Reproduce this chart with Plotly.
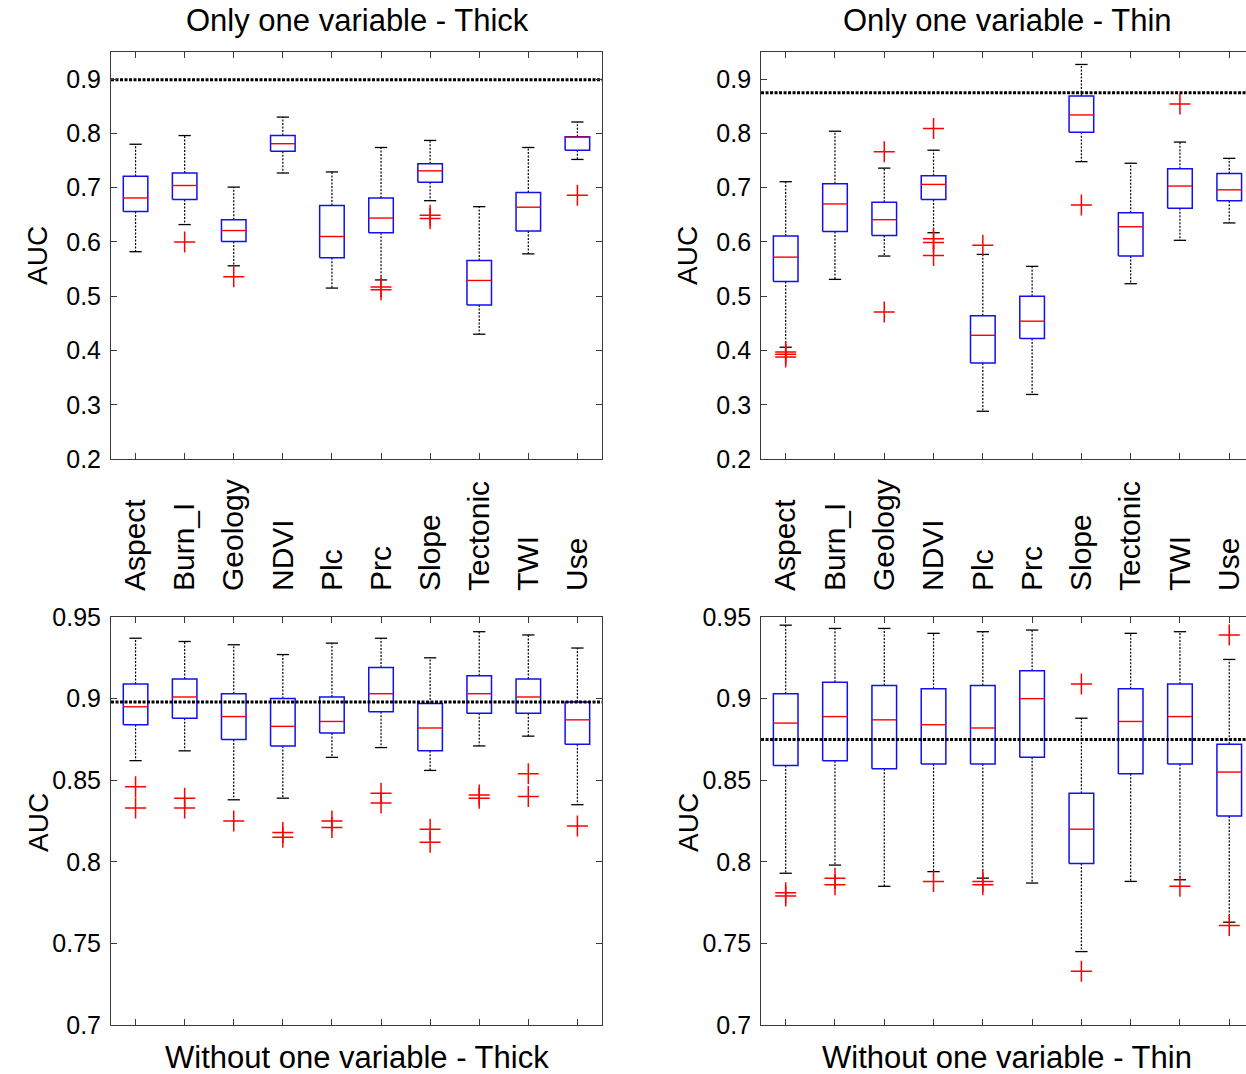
import plotly.graph_objects as go

categories = ["Aspect", "Burn_I", "Geology", "NDVI", "Plc", "Prc", "Slope", "Tectonic", "TWI", "Use"]

# ---- Only one variable - Thick ----
oth_hi = [0.780, 0.796, 0.701, 0.830, 0.729, 0.774, 0.787, 0.665, 0.774, 0.821]
oth_q3 = [0.721, 0.727, 0.641, 0.796, 0.667, 0.681, 0.744, 0.566, 0.691, 0.794]
oth_med = [0.681, 0.704, 0.621, 0.781, 0.610, 0.644, 0.731, 0.529, 0.664, 0.793]
oth_q1 = [0.656, 0.678, 0.601, 0.767, 0.571, 0.617, 0.710, 0.484, 0.620, 0.769]
oth_lo = [0.582, 0.632, 0.556, 0.727, 0.515, 0.530, 0.676, 0.430, 0.578, 0.752]
oth_out = [[], [0.600], [0.536], [], [], [0.517, 0.512], [0.649, 0.643], [], [], [0.686]]
oth_ref = 0.899

# ---- Only one variable - Thin ----
otn_hi = [0.711, 0.804, 0.736, 0.769, 0.577, 0.555, 0.927, 0.745, 0.784, 0.754]
otn_q3 = [0.611, 0.707, 0.673, 0.722, 0.464, 0.500, 0.869, 0.654, 0.735, 0.726]
otn_med = [0.572, 0.670, 0.641, 0.706, 0.428, 0.454, 0.834, 0.628, 0.703, 0.696]
otn_q1 = [0.527, 0.619, 0.612, 0.678, 0.377, 0.422, 0.802, 0.574, 0.662, 0.676]
otn_lo = [0.406, 0.531, 0.574, 0.617, 0.288, 0.319, 0.748, 0.523, 0.603, 0.635]
otn_out = [[0.397, 0.393, 0.388], [], [0.766, 0.471], [0.809, 0.606, 0.599, 0.575],
           [0.594], [], [0.668], [], [0.854], []]
otn_ref = 0.875

# ---- Without one variable - Thick ----
wth_hi = [0.937, 0.935, 0.933, 0.927, 0.934, 0.937, 0.925, 0.941, 0.939, 0.931]
wth_q3 = [0.909, 0.912, 0.903, 0.900, 0.901, 0.919, 0.897, 0.914, 0.912, 0.898]
wth_med = [0.895, 0.901, 0.889, 0.883, 0.886, 0.903, 0.882, 0.903, 0.901, 0.887]
wth_q1 = [0.884, 0.888, 0.875, 0.871, 0.879, 0.892, 0.868, 0.891, 0.891, 0.872]
wth_lo = [0.862, 0.868, 0.838, 0.839, 0.864, 0.870, 0.856, 0.871, 0.877, 0.835]
wth_out = [[0.846, 0.833], [0.839, 0.833], [0.825], [0.818, 0.815], [0.825, 0.821],
           [0.842, 0.836], [0.820, 0.812], [0.841, 0.839], [0.854, 0.840], [0.822]]
wth_ref = 0.898

# ---- Without one variable - Thin ----
wtn_hi = [0.945, 0.943, 0.943, 0.940, 0.941, 0.942, 0.888, 0.940, 0.941, 0.924]
wtn_q3 = [0.903, 0.910, 0.908, 0.906, 0.908, 0.917, 0.842, 0.906, 0.909, 0.872]
wtn_med = [0.885, 0.889, 0.887, 0.884, 0.882, 0.900, 0.820, 0.886, 0.889, 0.855]
wtn_q1 = [0.859, 0.862, 0.857, 0.860, 0.860, 0.864, 0.799, 0.854, 0.860, 0.828]
wtn_lo = [0.793, 0.798, 0.785, 0.794, 0.790, 0.787, 0.745, 0.788, 0.789, 0.763]
wtn_out = [[0.781, 0.779], [0.790, 0.786], [], [0.788], [0.788, 0.786],
           [], [0.909, 0.733], [], [0.785], [0.939, 0.761]]
wtn_ref = 0.875

panels = [
    ("x", "y", oth_hi, oth_q3, oth_med, oth_q1, oth_lo, oth_out, oth_ref),
    ("x2", "y2", otn_hi, otn_q3, otn_med, otn_q1, otn_lo, otn_out, otn_ref),
    ("x3", "y3", wth_hi, wth_q3, wth_med, wth_q1, wth_lo, wth_out, wth_ref),
    ("x4", "y4", wtn_hi, wtn_q3, wtn_med, wtn_q1, wtn_lo, wtn_out, wtn_ref),
]

BW = 0.25   # box half width
CW = 0.125  # cap half width
FONT = "Liberation Sans, Arial, sans-serif"

fig = go.Figure()
for xa, ya, hi, q3, med, q1, lo, outs, ref in panels:
    n = len(categories)
    pos = list(range(1, n + 1))
    wx, wy, cx, cy, bx, by, mx, my, ox, oy = [], [], [], [], [], [], [], [], [], []
    for i in range(n):
        p = pos[i]
        wx += [p, p, None, p, p, None]
        wy += [q3[i], hi[i], None, q1[i], lo[i], None]
        cx += [p - CW, p + CW, None, p - CW, p + CW, None]
        cy += [hi[i], hi[i], None, lo[i], lo[i], None]
        bx += [p - BW, p + BW, p + BW, p - BW, p - BW, None]
        by += [q1[i], q1[i], q3[i], q3[i], q1[i], None]
        mx += [p - BW, p + BW, None]
        my += [med[i], med[i], None]
        for v in outs[i]:
            ox.append(p)
            oy.append(v)
    fig.add_trace(go.Scatter(x=wx, y=wy, mode="lines", xaxis=xa, yaxis=ya,
                             line=dict(color="black", width=1.2, dash="2px,1.5px"),
                             hoverinfo="skip", showlegend=False))
    fig.add_trace(go.Scatter(x=cx, y=cy, mode="lines", xaxis=xa, yaxis=ya,
                             line=dict(color="black", width=1.3),
                             hoverinfo="skip", showlegend=False))
    fig.add_trace(go.Scatter(x=bx, y=by, mode="lines", xaxis=xa, yaxis=ya,
                             line=dict(color="#1010F0", width=1.5),
                             hoverinfo="skip", showlegend=False))
    fig.add_trace(go.Scatter(x=mx, y=my, mode="lines", xaxis=xa, yaxis=ya,
                             line=dict(color="#FF0000", width=1.4),
                             hoverinfo="skip", showlegend=False))
    fig.add_trace(go.Scatter(x=ox, y=oy, mode="markers", xaxis=xa, yaxis=ya,
                             marker=dict(symbol="cross-thin", size=15, color="#FF0000",
                                         line=dict(color="#FF0000", width=1.5)),
                             hoverinfo="skip", showlegend=False))
    fig.add_trace(go.Scatter(x=[0.5, 10.5], y=[ref, ref], mode="lines", xaxis=xa, yaxis=ya,
                             line=dict(color="black", width=3, dash="3px,1.5px"),
                             hoverinfo="skip", showlegend=False))

AX = "#3a3a3a"
tickfont = dict(family=FONT, size=25, color="black")

def xaxis(domain, anchor, rng, labels_top):
    d = dict(domain=domain, anchor=anchor, range=rng, showline=True, linecolor=AX, linewidth=1,
             mirror="ticks", ticks="inside", ticklen=6, tickcolor=AX, tickwidth=1,
             tickmode="array", tickvals=list(range(1, len(categories) + 1)),
             showgrid=False, zeroline=False, automargin=False,
             tickfont=dict(family=FONT, size=30, color="black"))
    if labels_top:
        d.update(side="top", ticktext=categories, showticklabels=True, tickangle=-90,
                 ticklabelstandoff=19)
    else:
        d.update(ticktext=categories, showticklabels=False)
    return d

def yaxis(domain, anchor, rng, dtick, fmt, mirror):
    return dict(domain=domain, anchor=anchor, range=rng, showline=True, linecolor=AX,
                linewidth=1, mirror=mirror, ticks="inside", ticklen=6, tickcolor=AX,
                tickwidth=1, dtick=dtick, tick0=0, tickformat=fmt, showgrid=False,
                zeroline=False, automargin=False, tickfont=tickfont, ticklabelstandoff=4)

LX = [0.0891, 0.4831]
RX = [0.6108, 1.0]
TY = [0.5726, 0.9516]
BY = [0.0456, 0.4255]
RR = [0.5, 10.34]

fig.update_layout(
    width=1246, height=1074,
    margin=dict(l=0, r=0, t=0, b=0, pad=0, autoexpand=False),
    paper_bgcolor="white", plot_bgcolor="white",
    showlegend=False,
    font=dict(family=FONT, color="black"),
    xaxis=xaxis(LX, "y", [0.5, 10.5], False),
    yaxis=yaxis(TY, "x", [0.2, 0.95], 0.1, ".1f", "ticks"),
    xaxis2=xaxis(RX, "y2", RR, False),
    yaxis2=yaxis(TY, "x2", [0.2, 0.95], 0.1, ".1f", False),
    xaxis3=xaxis(LX, "y3", [0.5, 10.5], True),
    yaxis3=yaxis(BY, "x3", [0.7, 0.95], 0.05, "", "ticks"),
    xaxis4=xaxis(RX, "y4", RR, True),
    yaxis4=yaxis(BY, "x4", [0.7, 0.95], 0.05, "", False),
)

def ann(text, x, y, size, angle=0):
    return dict(text=text, x=x, y=y, xref="paper", yref="paper", showarrow=False,
                xanchor="center", yanchor="middle", textangle=angle,
                font=dict(family=FONT, size=size, color="black"))

fig.update_layout(annotations=[
    ann("Only one variable - Thick", 357 / 1246, 1 - 21 / 1074, 31),
    ann("Only one variable - Thin", 1007 / 1246, 1 - 21 / 1074, 31),
    ann("Without one variable - Thick", 357 / 1246, 1 - 1057 / 1074, 31),
    ann("Without one variable - Thin", 1007 / 1246, 1 - 1057 / 1074, 31),
    ann("AUC", 38 / 1246, 1 - 256 / 1074, 28, -90),
    ann("AUC", 688 / 1246, 1 - 256 / 1074, 28, -90),
    ann("AUC", 38 / 1246, 1 - 823 / 1074, 28, -90),
    ann("AUC", 688 / 1246, 1 - 823 / 1074, 28, -90),
])

fig.write_html("out.html")
